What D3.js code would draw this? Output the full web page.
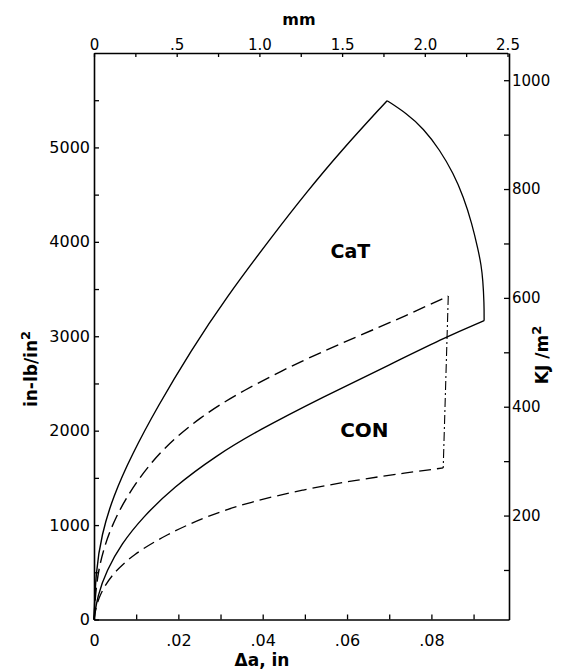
<!DOCTYPE html>
<html><head><meta charset="utf-8">
<script src="https://cdn.jsdelivr.net/npm/d3@7"></script>
<style>body{margin:0;background:#fff} svg{display:block}</style>
</head><body>
<script>
// ---- axis ticks ----
const inMajor = [0, 0.02, 0.04, 0.06, 0.08];
const inLabels = ["0", ".02", ".04", ".06", ".08"];
const inMinor = [0.01, 0.03, 0.05, 0.07, 0.09];
const mmMajor = [0, 0.5, 1.0, 1.5, 2.0, 2.5];
const mmLabels = ["0", ".5", "1.0", "1.5", "2.0", "2.5"];
const mmMinor = [0.25, 0.75, 1.25, 1.75, 2.25];
const yMajor = [0, 1000, 2000, 3000, 4000, 5000];
const yMinor = [500, 1500, 2500, 3500, 4500, 5500];
const kjMajor = [200, 400, 600, 800, 1000];
const kjMinor = [100, 300, 500, 700, 900];
const xDomainIn = [0, 0.0984];
const xDomainMm = [0, 2.5];
const yDomain = [0, 6000];
const kjDomain = [9, 1050];

// ---- series (x in inches, y in in-lb/in^2) ----
const catUpper = [[0,0],[0.0004,500],[0.0018,900],[0.0045,1300],[0.0090,1750],[0.0150,2250],[0.0230,2850],[0.0311,3395],[0.0425,4075],[0.0504,4525],[0.0583,4950],[0.0695,5495]];
const catArc = [[0.0695,5495],[0.0741,5361],[0.0781,5202],[0.0820,4973],[0.0852,4726],[0.0876,4478],[0.0896,4196],[0.0911,3913],[0.0918,3754],[0.0922,3600],[0.0925,3350],[0.0925,3165]];
const catLower = [[0,0],[0.0008,250],[0.0030,520],[0.0065,800],[0.0115,1080],[0.0188,1400],[0.0291,1740],[0.0386,1995],[0.0544,2360],[0.0702,2700],[0.0836,2995],[0.0925,3165]];
const conUpper = [[0,0],[0.0005,400],[0.0022,750],[0.0050,1080],[0.0095,1430],[0.0160,1800],[0.0250,2140],[0.0350,2420],[0.0496,2748],[0.0623,2995],[0.0741,3220],[0.0840,3426]];
const conLower = [[0,0],[0.0008,220],[0.0040,470],[0.0093,690],[0.0172,900],[0.0267,1095],[0.0370,1245],[0.0496,1375],[0.0623,1478],[0.0741,1555],[0.0828,1605]];
const conEnd = [[0.0840,3426],[0.0828,1605]];
const regionLabels = [{t:"CaT", x:0.0608, y:3830, s:19}, {t:"CON", x:0.0641, y:1935, s:20}];

const W = 561, H = 670;
const svg = d3.select("body").append("svg").attr("width", W).attr("height", H)
  .style("font-family", "'DejaVu Sans', sans-serif");

const x = d3.scaleLinear().domain(xDomainIn).range([94, 509]);
const xmm = d3.scaleLinear().domain(xDomainMm).range([94, 507.5]);
const y = d3.scaleLinear().domain(yDomain).range([619.5, 53]);
const yR = d3.scaleLinear().domain(kjDomain).range([619.5, 53]);

function styleAxis(g, fs) {
  g.selectAll(".domain").attr("stroke", "#000").attr("stroke-width", 1.6);
  g.selectAll(".tick line").attr("stroke", "#000").attr("stroke-width", 1.3);
  g.selectAll("text").attr("font-size", fs).attr("fill", "#000").attr("font-family", "'DejaVu Sans', sans-serif");
}

// bottom
svg.append("g").attr("transform", "translate(0,619.5)")
  .call(d3.axisBottom(x).tickValues(inMajor).tickFormat((d,i) => inLabels[i]).tickSizeInner(-5).tickSizeOuter(0).tickPadding(15))
  .call(g => styleAxis(g, 16));
svg.append("g").attr("transform", "translate(0,619.5)")
  .call(d3.axisBottom(x).tickValues(inMinor).tickFormat("").tickSizeInner(-5).tickSizeOuter(0))
  .call(g => { g.select(".domain").remove(); styleAxis(g, 16); });
// top
svg.append("g").attr("transform", "translate(0,53)")
  .call(d3.axisTop(xmm).tickValues(mmMajor).tickFormat((d,i) => mmLabels[i]).tickSizeInner(-4).tickSizeOuter(0).tickPadding(3))
  .call(g => styleAxis(g, 15));
svg.append("g").attr("transform", "translate(0,53)")
  .call(d3.axisTop(xmm).tickValues(mmMinor).tickFormat("").tickSizeInner(-4).tickSizeOuter(0))
  .call(g => { g.select(".domain").remove(); styleAxis(g, 15); });
// left
svg.append("g").attr("transform", "translate(94,0)")
  .call(d3.axisLeft(y).tickValues(yMajor.concat(yMinor)).tickFormat(d => yMajor.includes(d) ? d : "").tickSizeInner(-5).tickSizeOuter(0).tickPadding(4))
  .call(g => styleAxis(g, 16));
// right
svg.append("g").attr("transform", "translate(509,0)")
  .call(d3.axisRight(yR).tickValues(kjMajor.concat(kjMinor)).tickFormat(d => kjMajor.includes(d) ? d : "").tickSizeInner(-5).tickSizeOuter(0).tickPadding(3))
  .call(g => styleAxis(g, 15));

// titles
svg.append("text").attr("x", 299).attr("y", 25).attr("text-anchor", "middle")
  .attr("font-size", 16).attr("font-weight", "bold").text("mm");
svg.append("text").attr("x", 262).attr("y", 666).attr("text-anchor", "middle")
  .attr("font-size", 17).attr("font-weight", "bold").text("Δa, in");
const lt = svg.append("text").attr("transform", "translate(37,369) rotate(-90)").attr("text-anchor", "middle")
  .attr("font-size", 17).attr("font-weight", "bold");
lt.append("tspan").text("in-lb/in");
lt.append("tspan").attr("dy", -7).attr("font-size", 13).text("2");
const rt = svg.append("text").attr("transform", "translate(548,355) rotate(-90)").attr("text-anchor", "middle")
  .attr("font-size", 17).attr("font-weight", "bold");
rt.append("tspan").text("KJ /m");
rt.append("tspan").attr("dy", -7).attr("font-size", 13).text("2");

// curves
const lineB = d3.line().x(d => x(d[0])).y(d => y(d[1])).curve(d3.curveBasis);
const lineStraight = d3.line().x(d => x(d[0])).y(d => y(d[1]));
const series = [
  {d: catUpper, dash: null, w: 1.4, f: lineB},
  {d: catArc, dash: null, w: 1.3, f: lineB},
  {d: catLower, dash: null, w: 1.4, f: lineB},
  {d: conUpper, dash: "13,6", w: 1.4, f: lineB},
  {d: conLower, dash: "12,6", w: 1.3, f: lineB},
  {d: conEnd, dash: "9,3,2,3", w: 1.1, f: lineStraight}
];
svg.selectAll("path.series").data(series).join("path").attr("class", "series")
  .attr("d", s => s.f(s.d)).attr("fill", "none").attr("stroke", "#000")
  .attr("stroke-width", s => s.w).attr("stroke-dasharray", s => s.dash)
  .attr("stroke-linejoin", "miter");

svg.selectAll("text.region").data(regionLabels).join("text").attr("class", "region")
  .attr("x", d => x(d.x)).attr("y", d => y(d.y)).attr("text-anchor", "middle")
  .attr("font-size", d => d.s).attr("font-weight", "bold").text(d => d.t);
</script>
</body></html>
